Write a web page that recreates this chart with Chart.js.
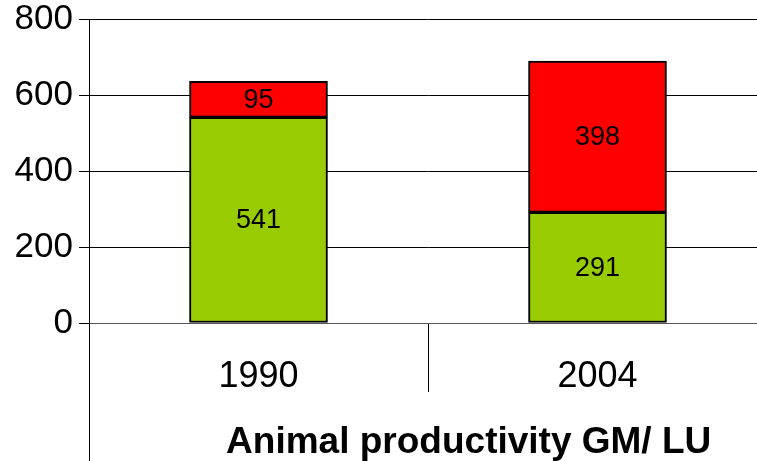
<!DOCTYPE html>
<html>
<head>
<meta charset="utf-8">
<script src="https://cdn.jsdelivr.net/npm/chart.js@4/dist/chart.umd.min.js"></script>
<style>
  html, body { margin: 0; padding: 0; background: #fff; overflow: hidden; }
  #wrap { position: relative; width: 767px; height: 461px; }
</style>
</head>
<body>
<div id="wrap"><canvas id="c"></canvas></div>
<script>
// Animal productivity, gross margin per livestock unit
const years = ['1990', '2004'];
const greenPart = [541, 291];
const redPart = [95, 398];
const yTicks = [0, 200, 400, 600, 800];
const axisTitle = 'Animal productivity GM/ LU';

const FONT = "'Liberation Sans', Arial, sans-serif";

// Writes each segment's value in the middle of its bar piece
const segmentLabels = {
  id: 'segmentLabels',
  afterDatasetsDraw(chart) {
    const ctx = chart.ctx;
    ctx.save();
    ctx.font = '27px ' + FONT;
    ctx.fillStyle = '#000';
    ctx.textAlign = 'center';
    ctx.textBaseline = 'middle';
    chart.data.datasets.forEach((ds, di) => {
      chart.getDatasetMeta(di).data.forEach((bar, i) => {
        const p = bar.getCenterPoint();
        ctx.fillText(String(ds.data[i]), p.x, p.y + 1);
      });
    });
    ctx.restore();
  }
};

// Extends the value axis line down past the category labels and writes the axis title
const axisDecor = {
  id: 'axisDecor',
  afterDraw(chart) {
    const ctx = chart.ctx;
    const area = chart.chartArea;
    const x = chart.scales.x;
    ctx.save();
    ctx.strokeStyle = '#000';
    ctx.lineWidth = 1;
    ctx.beginPath();
    const lx = Math.round(area.left) + 0.5;
    ctx.moveTo(lx, x.top + x.options.grid.tickLength);
    ctx.lineTo(lx, chart.height);
    ctx.stroke();

    ctx.font = 'bold 37px ' + FONT;
    ctx.fillStyle = '#000';
    ctx.textAlign = 'center';
    ctx.textBaseline = 'alphabetic';
    ctx.fillText(axisTitle, area.left + (area.right - area.left) * 0.56, chart.height - 8);
    ctx.restore();
  }
};

new Chart(document.getElementById('c'), {
  type: 'bar',
  data: {
    labels: years,
    datasets: [
      {
        label: 'green',
        data: greenPart,
        backgroundColor: '#99CC00',
        borderColor: '#000',
        borderWidth: 2,
        borderSkipped: false
      },
      {
        label: 'red',
        data: redPart,
        backgroundColor: '#FF0000',
        borderColor: '#000',
        borderWidth: 2,
        borderSkipped: false
      }
    ]
  },
  options: {
    responsive: true,
    maintainAspectRatio: false,
    animation: false,
    layout: { padding: { top: 19, right: 0, bottom: 0, left: 0 } },
    datasets: { bar: { barThickness: 138 } },
    plugins: {
      legend: { display: false },
      tooltip: { enabled: false }
    },
    scales: {
      x: {
        stacked: true,
        offset: true,
        afterFit(scale) { scale.height = 138; },
        grid: {
          offset: true,
          drawOnChartArea: false,
          drawTicks: true,
          tickLength: 69,
          color: '#000',
          lineWidth: 1
        },
        border: { display: true, color: '#555', width: 1 },
        ticks: {
          font: { family: FONT, size: 36 },
          color: '#000',
          padding: -37,
          maxRotation: 0
        }
      },
      y: {
        stacked: true,
        min: 0,
        max: 800,
        afterBuildTicks(scale) { scale.ticks = yTicks.map(v => ({ value: v })); },
        afterFit(scale) { scale.width = 89; scale.paddingTop = 0; scale.paddingBottom = 0; },
        grid: {
          color: '#000',
          lineWidth: 1,
          drawTicks: true,
          tickLength: 10
        },
        border: { display: true, color: '#000', width: 1 },
        ticks: {
          font: { family: FONT, size: 35, lineHeight: 0.8 },
          color: '#000',
          padding: 6
        }
      }
    }
  },
  plugins: [segmentLabels, axisDecor]
});
</script>
</body>
</html>
